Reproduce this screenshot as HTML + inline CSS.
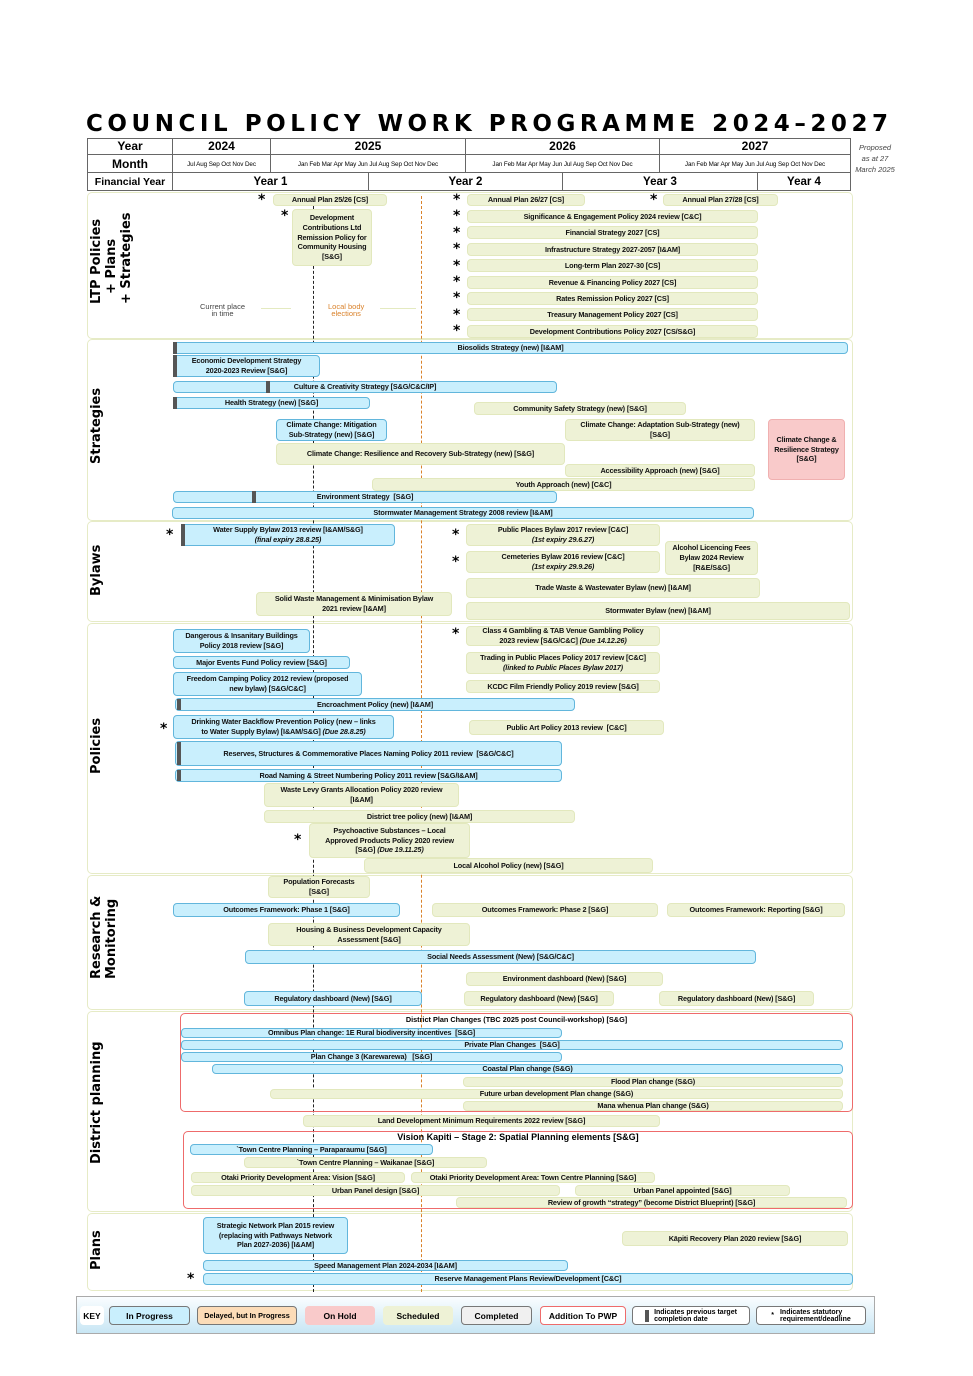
<!DOCTYPE html>
<html><head><meta charset="utf-8"><style>
body{margin:0;width:973px;height:1376px;background:#fff;position:relative;overflow:hidden;font-family:"Liberation Sans",sans-serif}
div{box-sizing:border-box}
.a{position:absolute}
.b{position:absolute;display:flex;align-items:center;justify-content:center;text-align:center;border-radius:4px;font-weight:bold;font-size:7.3px;letter-spacing:-0.15px;line-height:1.35;color:#111;white-space:nowrap;overflow:hidden}
.u{background:#c9effd;border:1px solid #62b6dc}
.s{background:#eef2d6;border:1px solid #e2e8bd}
.p{background:#f9caca;border:1px solid #f0b0b0}
.m{position:absolute;background:#555;width:4px}
.sec{position:absolute;border:1px solid #e6ebc6;border-radius:5px}
.lbl{position:absolute;writing-mode:vertical-rl;transform:rotate(180deg);font:bold 13px "DejaVu Sans",sans-serif;text-align:center;line-height:1.15;white-space:nowrap}
.st{position:absolute;font:bold 14px "DejaVu Sans",sans-serif}
.h{position:absolute;border:1px solid #666;text-align:center;font-family:"Liberation Sans",sans-serif;font-weight:bold}
.mo{position:absolute;border:1px solid #666;text-align:center;font:6.3px "Liberation Sans",sans-serif;letter-spacing:-0.1px;line-height:19px;white-space:nowrap}
.k{position:absolute;top:1306px;height:19px;border-radius:4px;display:flex;align-items:center;justify-content:center;font:bold 8.5px "Liberation Sans",sans-serif;border:1px solid #777;white-space:nowrap}
</style></head><body>
<svg class="a" style="left:0;top:100px" width="973" height="40"><text x="86" y="31" textLength="802" lengthAdjust="spacing" style="font:bold 23px 'DejaVu Sans',sans-serif">COUNCIL POLICY WORK PROGRAMME 2024–2027</text></svg>
<div class="h" style="left:87px;top:138px;width:86px;height:17px;font-size:12px;line-height:15px">Year</div>
<div class="h" style="left:87px;top:154px;width:86px;height:19px;font-size:12px;line-height:18px">Month</div>
<div class="h" style="left:87px;top:172px;width:86px;height:19px;font-size:10.5px;line-height:18px">Financial Year</div>
<div class="h" style="left:172px;top:138px;width:99px;height:17px;font-size:12px;line-height:15px">2024</div>
<div class="h" style="left:270px;top:138px;width:196px;height:17px;font-size:12px;line-height:15px">2025</div>
<div class="h" style="left:465px;top:138px;width:195px;height:17px;font-size:12px;line-height:15px">2026</div>
<div class="h" style="left:659px;top:138px;width:192px;height:17px;font-size:12px;line-height:15px">2027</div>
<div class="mo" style="left:172px;top:154px;width:99px;height:19px">Jul Aug Sep Oct Nov Dec</div>
<div class="mo" style="left:270px;top:154px;width:196px;height:19px">Jan Feb Mar Apr May Jun Jul Aug Sep Oct Nov Dec</div>
<div class="mo" style="left:465px;top:154px;width:195px;height:19px">Jan Feb Mar Apr May Jun Jul Aug Sep Oct Nov Dec</div>
<div class="mo" style="left:659px;top:154px;width:192px;height:19px">Jan Feb Mar Apr May Jun Jul Aug Sep Oct Nov Dec</div>
<div class="h" style="left:172px;top:172px;width:197px;height:19px;font-size:11.5px;line-height:18px">Year 1</div>
<div class="h" style="left:368px;top:172px;width:195px;height:19px;font-size:11.5px;line-height:18px">Year 2</div>
<div class="h" style="left:562px;top:172px;width:196px;height:19px;font-size:11.5px;line-height:18px">Year 3</div>
<div class="h" style="left:757px;top:172px;width:94px;height:19px;font-size:11.5px;line-height:18px">Year 4</div>
<div class="a" style="left:855px;top:142px;width:40px;font:italic 7.5px 'Liberation Sans',sans-serif;text-align:center;line-height:11px;color:#444">Proposed as at 27 March 2025</div>

<!-- sections -->
<div class="sec" style="left:87px;top:192px;width:766px;height:147px"></div>
<div class="sec" style="left:87px;top:339px;width:766px;height:182px"></div>
<div class="sec" style="left:87px;top:521px;width:766px;height:101px"></div>
<div class="sec" style="left:87px;top:623px;width:766px;height:251px"></div>
<div class="sec" style="left:87px;top:875px;width:766px;height:135px"></div>
<div class="sec" style="left:87px;top:1011px;width:766px;height:201px"></div>
<div class="sec" style="left:87px;top:1213px;width:766px;height:78px"></div>
<div class="lbl" style="left:90px;top:228px;height:76px">LTP Policies<br>+ Plans<br>+ Strategies</div>
<div class="lbl" style="left:90px;top:398px;height:66px">Strategies</div>
<div class="lbl" style="left:90px;top:548px;height:48px">Bylaws</div>
<div class="lbl" style="left:90px;top:724px;height:50px">Policies</div>
<div class="lbl" style="left:90px;top:905px;height:74px">Research &amp;<br>Monitoring</div>
<div class="lbl" style="left:90px;top:1058px;height:106px">District planning</div>
<div class="lbl" style="left:90px;top:1234px;height:36px">Plans</div>

<!-- vertical lines -->
<div class="a" style="left:313px;top:196px;height:1096px;border-left:1px dashed #222"></div>
<div class="a" style="left:421px;top:196px;height:1096px;border-left:1px dashed #d9822b"></div>
<div class="a" style="left:200px;top:303px;font:7.5px 'Liberation Sans',sans-serif;color:#444;text-align:center;line-height:7px">Current place<br>in time</div>
<div class="a" style="left:261px;top:308px;width:30px;border-top:1px solid #e4eac0"></div>
<div class="a" style="left:328px;top:303px;font:7.5px 'Liberation Sans',sans-serif;color:#d9822b;text-align:center;line-height:7px">Local body<br>elections</div>
<div class="a" style="left:380px;top:308px;width:36px;border-top:1px solid #e4eac0"></div>

<!-- LTP -->
<div class="st" style="left:258px;top:192px">*</div>
<div class="b s" style="left:273px;top:194px;width:114px;height:12px">Annual Plan 25/26 [CS]</div>
<div class="st" style="left:281px;top:208px">*</div>
<div class="b s" style="left:292px;top:209px;width:80px;height:57px"><span>Development<br>Contributions Ltd<br>Remission Policy for<br>Community Housing<br>[S&amp;G]</span></div>
<div class="st" style="left:453px;top:192px">*</div>
<div class="b s" style="left:467px;top:194px;width:118px;height:12px">Annual Plan 26/27 [CS]</div>
<div class="st" style="left:650px;top:192px">*</div>
<div class="b s" style="left:663px;top:194px;width:115px;height:12px">Annual Plan 27/28 [CS]</div>
<div class="st" style="left:453px;top:208px">*</div><div class="b s" style="left:467px;top:210px;width:291px;height:13px">Significance &amp; Engagement Policy 2024 review [C&amp;C]</div>
<div class="st" style="left:453px;top:225px">*</div><div class="b s" style="left:467px;top:226px;width:291px;height:13px">Financial Strategy 2027 [CS]</div>
<div class="st" style="left:453px;top:241px">*</div><div class="b s" style="left:467px;top:243px;width:291px;height:13px">Infrastructure Strategy 2027-2057 [I&amp;AM]</div>
<div class="st" style="left:453px;top:258px">*</div><div class="b s" style="left:467px;top:259px;width:291px;height:13px">Long-term Plan 2027-30 [CS]</div>
<div class="st" style="left:453px;top:274px">*</div><div class="b s" style="left:467px;top:276px;width:291px;height:13px">Revenue &amp; Financing Policy 2027 [CS]</div>
<div class="st" style="left:453px;top:290px">*</div><div class="b s" style="left:467px;top:292px;width:291px;height:13px">Rates Remission Policy 2027 [CS]</div>
<div class="st" style="left:453px;top:307px">*</div><div class="b s" style="left:467px;top:308px;width:291px;height:13px">Treasury Management Policy 2027 [CS]</div>
<div class="st" style="left:453px;top:323px">*</div><div class="b s" style="left:467px;top:325px;width:291px;height:13px">Development Contributions Policy 2027 [CS/S&amp;G]</div>

<!-- Strategies -->
<div class="b u" style="left:173px;top:342px;width:675px;height:12px">Biosolids Strategy (new) [I&amp;AM]</div><div class="m" style="left:173px;top:342px;height:12px"></div>
<div class="b u" style="left:173px;top:355px;width:147px;height:22px"><span>Economic Development Strategy<br>2020-2023 Review [S&amp;G]</span></div><div class="m" style="left:173px;top:355px;height:22px"></div>
<div class="b u" style="left:173px;top:381px;width:384px;height:12px">Culture &amp; Creativity Strategy [S&amp;G/C&amp;C/IP]</div><div class="m" style="left:266px;top:381px;height:12px"></div>
<div class="b u" style="left:173px;top:397px;width:197px;height:12px">Health Strategy (new) [S&amp;G]</div><div class="m" style="left:173px;top:397px;height:12px"></div>
<div class="b s" style="left:474px;top:402px;width:212px;height:13px">Community Safety Strategy (new) [S&amp;G]</div>
<div class="b u" style="left:276px;top:419px;width:111px;height:22px"><span>Climate Change: Mitigation<br>Sub-Strategy (new) [S&amp;G]</span></div>
<div class="b s" style="left:565px;top:419px;width:190px;height:22px"><span>Climate Change: Adaptation Sub-Strategy (new)<br>[S&amp;G]</span></div>
<div class="b p" style="left:768px;top:419px;width:77px;height:61px"><span>Climate Change &amp;<br>Resilience Strategy<br>[S&amp;G]</span></div>
<div class="b s" style="left:276px;top:443px;width:289px;height:22px">Climate Change: Resilience and Recovery Sub-Strategy (new) [S&amp;G]</div>
<div class="b s" style="left:565px;top:464px;width:190px;height:13px">Accessibility Approach (new) [S&amp;G]</div>
<div class="b s" style="left:372px;top:478px;width:383px;height:13px">Youth Approach (new) [C&amp;C]</div>
<div class="b u" style="left:173px;top:491px;width:384px;height:12px">Environment Strategy&nbsp; [S&amp;G]</div><div class="m" style="left:252px;top:491px;height:12px"></div>
<div class="b u" style="left:172px;top:507px;width:582px;height:12px">Stormwater Management Strategy 2008 review [I&amp;AM]</div>

<!-- Bylaws -->
<div class="st" style="left:166px;top:527px">*</div>
<div class="b u" style="left:181px;top:524px;width:214px;height:22px"><span>Water Supply Bylaw 2013 review [I&amp;AM/S&amp;G]<br><i>(final expiry 28.8.25)</i></span></div><div class="m" style="left:181px;top:524px;height:22px"></div>
<div class="st" style="left:452px;top:527px">*</div>
<div class="b s" style="left:466px;top:524px;width:194px;height:22px"><span>Public Places Bylaw 2017 review [C&amp;C]<br><i>(1st expiry 29.6.27)</i></span></div>
<div class="st" style="left:452px;top:554px">*</div>
<div class="b s" style="left:466px;top:551px;width:194px;height:22px"><span>Cemeteries Bylaw 2016 review [C&amp;C]<br><i>(1st expiry 29.9.26)</i></span></div>
<div class="b s" style="left:665px;top:541px;width:93px;height:34px"><span>Alcohol Licencing Fees<br>Bylaw 2024 Review<br>[R&amp;E/S&amp;G]</span></div>
<div class="b s" style="left:466px;top:578px;width:294px;height:20px">Trade Waste &amp; Wastewater Bylaw (new) [I&amp;AM]</div>
<div class="b s" style="left:256px;top:592px;width:196px;height:24px"><span>Solid Waste Management &amp; Minimisation Bylaw<br>2021 review [I&amp;AM]</span></div>
<div class="b s" style="left:466px;top:602px;width:384px;height:18px">Stormwater Bylaw (new) [I&amp;AM]</div>

<!-- Policies -->
<div class="b u" style="left:173px;top:629px;width:137px;height:24px"><span>Dangerous &amp; Insanitary Buildings<br>Policy 2018 review [S&amp;G]</span></div>
<div class="st" style="left:452px;top:626px">*</div>
<div class="b s" style="left:466px;top:626px;width:194px;height:20px"><span>Class 4 Gambling &amp; TAB Venue Gambling Policy<br>2023 review [S&amp;G/C&amp;C] <i>(Due 14.12.26)</i></span></div>
<div class="b u" style="left:173px;top:656px;width:177px;height:13px">Major Events Fund Policy review [S&amp;G]</div>
<div class="b s" style="left:466px;top:652px;width:194px;height:22px"><span>Trading in Public Places Policy 2017 review [C&amp;C]<br><i>(linked to Public Places Bylaw 2017)</i></span></div>
<div class="b u" style="left:173px;top:672px;width:189px;height:24px"><span>Freedom Camping Policy 2012 review (proposed<br>new bylaw) [S&amp;G/C&amp;C]</span></div>
<div class="b s" style="left:466px;top:680px;width:194px;height:13px">KCDC Film Friendly Policy 2019 review [S&amp;G]</div>
<div class="b u" style="left:175px;top:698px;width:400px;height:13px">Encroachment Policy (new) [I&amp;AM]</div><div class="m" style="left:177px;top:699px;height:11px"></div>
<div class="st" style="left:160px;top:721px">*</div>
<div class="b u" style="left:173px;top:715px;width:221px;height:24px"><span>Drinking Water Backflow Prevention Policy (new – links<br>to Water Supply Bylaw) [I&amp;AM/S&amp;G] <i>(Due 28.8.25)</i></span></div>
<div class="b s" style="left:469px;top:720px;width:195px;height:15px">Public Art Policy 2013 review&nbsp; [C&amp;C]</div>
<div class="b u" style="left:175px;top:741px;width:387px;height:25px">Reserves, Structures &amp; Commemorative Places Naming Policy 2011 review&nbsp; [S&amp;G/C&amp;C]</div><div class="m" style="left:177px;top:742px;height:23px"></div>
<div class="b u" style="left:175px;top:769px;width:387px;height:13px">Road Naming &amp; Street Numbering Policy 2011 review [S&amp;G/I&amp;AM]</div><div class="m" style="left:177px;top:770px;height:11px"></div>
<div class="b s" style="left:264px;top:783px;width:195px;height:24px"><span>Waste Levy Grants Allocation Policy 2020 review<br>[I&amp;AM]</span></div>
<div class="b s" style="left:264px;top:810px;width:311px;height:13px">District tree policy (new) [I&amp;AM]</div>
<div class="st" style="left:294px;top:832px">*</div>
<div class="b s" style="left:309px;top:823px;width:161px;height:35px"><span>Psychoactive Substances – Local<br>Approved Products Policy 2020 review<br>[S&amp;G] <i>(Due 19.11.25)</i></span></div>
<div class="b s" style="left:364px;top:858px;width:289px;height:15px">Local Alcohol Policy (new) [S&amp;G]</div>

<!-- Research -->
<div class="b s" style="left:268px;top:876px;width:102px;height:22px"><span>Population Forecasts<br>[S&amp;G]</span></div>
<div class="b u" style="left:173px;top:903px;width:227px;height:14px">Outcomes Framework: Phase 1 [S&amp;G]</div>
<div class="b s" style="left:432px;top:903px;width:226px;height:14px">Outcomes Framework: Phase 2 [S&amp;G]</div>
<div class="b s" style="left:667px;top:903px;width:178px;height:14px">Outcomes Framework: Reporting [S&amp;G]</div>
<div class="b s" style="left:268px;top:923px;width:202px;height:23px"><span>Housing &amp; Business Development Capacity<br>Assessment [S&amp;G]</span></div>
<div class="b u" style="left:245px;top:950px;width:511px;height:14px">Social Needs Assessment (New) [S&amp;G/C&amp;C]</div>
<div class="b s" style="left:466px;top:972px;width:197px;height:14px">Environment dashboard (New) [S&amp;G]</div>
<div class="b u" style="left:244px;top:991px;width:178px;height:15px">Regulatory dashboard (New) [S&amp;G]</div>
<div class="b s" style="left:464px;top:991px;width:150px;height:15px">Regulatory dashboard (New) [S&amp;G]</div>
<div class="b s" style="left:659px;top:991px;width:155px;height:15px">Regulatory dashboard (New) [S&amp;G]</div>

<!-- District planning -->
<div class="a" style="left:180px;top:1013px;width:673px;height:99px;border:1px solid #ee6b6b;border-radius:5px"></div>
<div class="a" style="left:180px;top:1015px;width:673px;text-align:center;font:bold 7.3px 'Liberation Sans',sans-serif">District Plan Changes (TBC 2025 post Council-workshop) [S&amp;G]</div>
<div class="b u" style="left:181px;top:1028px;width:381px;height:10px">Omnibus Plan change: 1E Rural biodiversity incentives&nbsp; [S&amp;G]</div>
<div class="b u" style="left:181px;top:1040px;width:662px;height:10px">Private Plan Changes&nbsp; [S&amp;G]</div>
<div class="b u" style="left:181px;top:1052px;width:381px;height:10px">Plan Change 3 (Karewarewa)&nbsp;&nbsp; [S&amp;G]</div>
<div class="b u" style="left:212px;top:1064px;width:631px;height:10px">Coastal Plan change (S&amp;G)</div>
<div class="b s" style="left:463px;top:1077px;width:380px;height:10px">Flood Plan change (S&amp;G)</div>
<div class="b s" style="left:270px;top:1089px;width:573px;height:10px">Future urban development Plan change (S&amp;G)</div>
<div class="b s" style="left:463px;top:1101px;width:380px;height:10px">Mana whenua Plan change (S&amp;G)</div>
<div class="b s" style="left:303px;top:1115px;width:357px;height:12px">Land Development Minimum Requirements 2022 review [S&amp;G]</div>
<div class="a" style="left:183px;top:1131px;width:670px;height:78px;border:1px solid #ee6b6b;border-radius:5px"></div>
<div class="a" style="left:183px;top:1132px;width:670px;text-align:center;font:bold 9px 'Liberation Sans',sans-serif">Vision Kapiti – Stage 2: Spatial Planning elements [S&amp;G]</div>
<div class="b u" style="left:190px;top:1144px;width:243px;height:11px">`Town Centre Planning – Paraparaumu [S&amp;G]</div>
<div class="b s" style="left:244px;top:1157px;width:243px;height:11px">`Town Centre Planning – Waikanae [S&amp;G]</div>
<div class="b s" style="left:191px;top:1172px;width:214px;height:11px">Otaki Priority Development Area: Vision [S&amp;G]</div>
<div class="b s" style="left:411px;top:1172px;width:244px;height:11px">Otaki Priority Development Area: Town Centre Planning [S&amp;G]</div>
<div class="b s" style="left:191px;top:1185px;width:369px;height:11px">Urban Panel design [S&amp;G]</div>
<div class="b s" style="left:575px;top:1185px;width:215px;height:11px">Urban Panel appointed [S&amp;G]</div>
<div class="b s" style="left:456px;top:1197px;width:391px;height:11px">Review of growth “strategy” (become District Blueprint) [S&amp;G]</div>

<!-- Plans -->
<div class="b u" style="left:203px;top:1217px;width:145px;height:37px"><span>Strategic Network Plan 2015 review<br>(replacing with Pathways Network<br>Plan 2027-2036) [I&amp;AM]</span></div>
<div class="b s" style="left:622px;top:1231px;width:226px;height:15px">Kāpiti Recovery Plan 2020 review [S&amp;G]</div>
<div class="b u" style="left:203px;top:1260px;width:365px;height:11px">Speed Management Plan 2024-2034 [I&amp;AM]</div>
<div class="st" style="left:187px;top:1271px">*</div>
<div class="b u" style="left:203px;top:1273px;width:650px;height:12px">Reserve Management Plans Review/Development [C&amp;C]</div>

<!-- Key -->
<div class="a" style="left:76px;top:1296px;width:799px;height:38px;background:linear-gradient(#fafdff,#c8e6f4);border:1px solid #aaa"></div>
<div class="k" style="left:80px;width:24px;background:#fff;border-color:#fff">KEY</div>
<div class="k" style="left:109px;width:81px;background:#c9effd">In Progress</div>
<div class="k" style="left:197px;width:100px;background:#fcdcb8;font-size:7.3px">Delayed, but In Progress</div>
<div class="k" style="left:305px;width:70px;background:#f9caca;border-color:#f9caca">On Hold</div>
<div class="k" style="left:383px;width:70px;background:#eef2d6;border-color:#eef2d6">Scheduled</div>
<div class="k" style="left:461px;width:71px;background:#f0f0f0">Completed</div>
<div class="k" style="left:540px;width:86px;background:#fff;border-color:#ee6b6b">Addition To PWP</div>
<div class="k" style="left:632px;width:118px;background:#fff;font-size:7px;line-height:7px"><span style="display:inline-block;width:4px;height:12px;background:#555;margin-right:5px"></span><span>Indicates previous target<br>completion date</span></div>
<div class="k" style="left:756px;width:110px;background:#fff;font-size:7px;line-height:7px"><span style="margin-right:6px">*</span><span>Indicates statutory<br>requirement/deadline</span></div>
</body></html>
